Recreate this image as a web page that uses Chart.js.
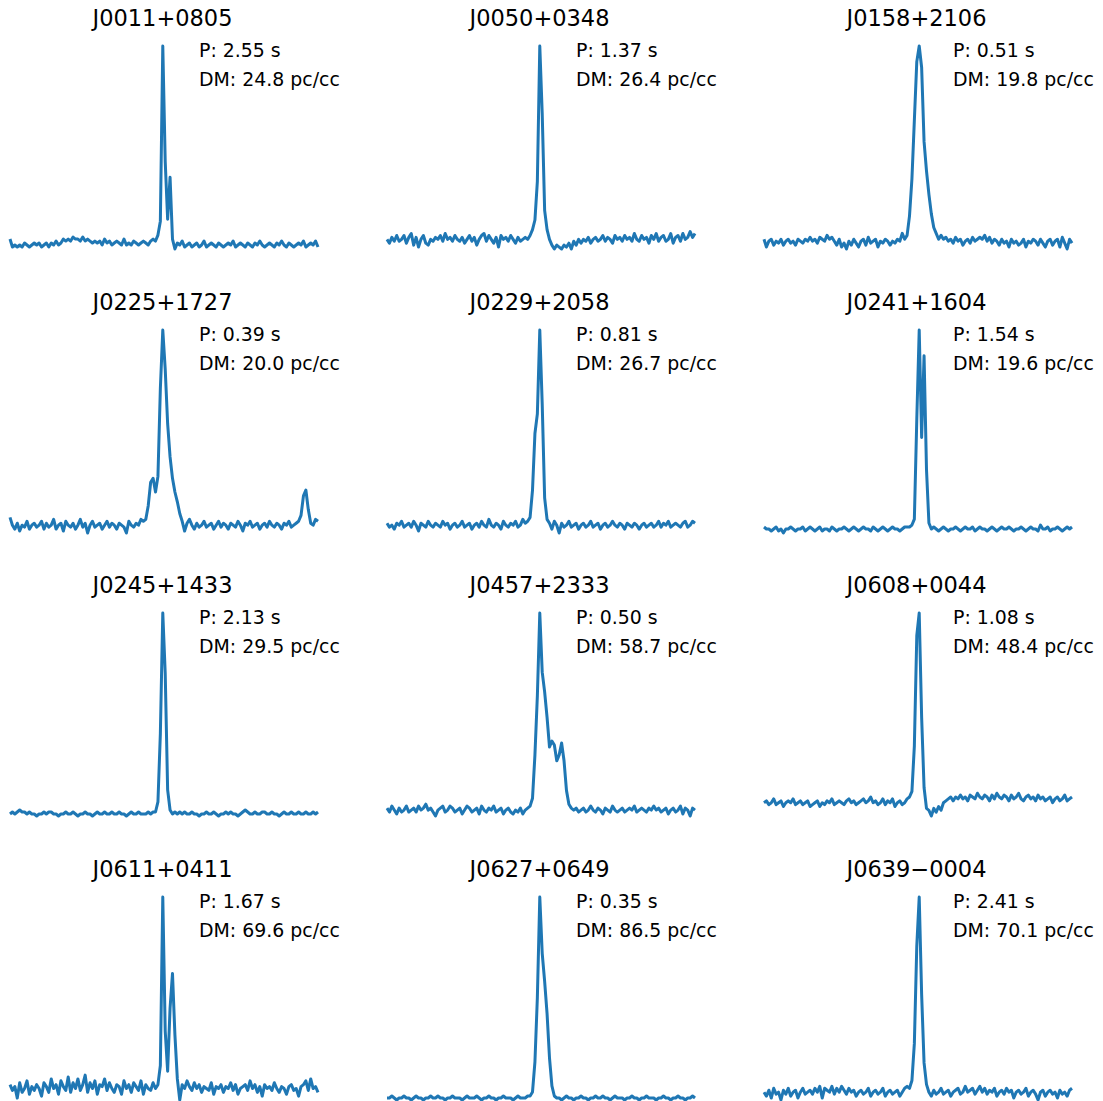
<!DOCTYPE html>
<html>
<head>
<meta charset="utf-8">
<script src="https://cdn.jsdelivr.net/npm/chart.js@4.4.0/dist/chart.umd.min.js"></script>
<style>
  html, body { margin: 0; padding: 0; background: #fff; overflow: hidden; }
  #page { position: relative; width: 1103px; height: 1101px; font-family: "DejaVu Sans", sans-serif; color: #000; }
  .panel { position: absolute; }
  .title { position: absolute; font-size: 22.5px; line-height: 1; white-space: nowrap; transform: translateX(-50%); }
  .note { position: absolute; font-size: 18.9px; line-height: 1; white-space: nowrap; }
</style>
</head>
<body>
<div id="page"></div>
<script>
// pulsar names, periods (s) and DMs (pc/cc)
const names = ['J0011+0805', 'J0050+0348', 'J0158+2106',
               'J0225+1727', 'J0229+2058', 'J0241+1604',
               'J0245+1433', 'J0457+2333', 'J0608+0044',
               'J0611+0411', 'J0627+0649', 'J0639\u22120004'];
const periods = [2.55, 1.37, 0.51, 0.39, 0.81, 1.54, 2.13, 0.50, 1.08, 1.67, 0.35, 2.41];
const dms = [24.8, 26.4, 19.8, 20.0, 26.7, 19.6, 29.5, 58.7, 48.4, 69.6, 86.5, 70.1];

// pulse profiles, 128 phase bins, peak normalised to 100
const profJ0011 = [3, -1, 0, -1, 0, -1, 1, 0, -1, 0,
  1, 0, 1, -1, 0, 1, -1, 1, 0, 2,
  0, 1, 3, 2, 3, 2, 4, 3, 3, 2,
  4, 2, 3, 2, 1, 2, 1, 2, 0, 3,
  1, 2, 0, 1, 2, 1, 0, 3, 0, 1,
  0, 2, 1, 0, 1, 2, 1, 0, 2, 3,
  2, 5, 12, 100, 42, 13, 34, 3, -2, 1,
  0, 2, -1, 0, 1, -1, 0, 1, -1, 0,
  2, -1, 0, 1, 0, -1, 1, 0, -1, 0,
  1, 0, 2, -1, 0, 1, 0, -1, 1, 0,
  -1, 1, 0, 2, 0, -1, 0, 1, 0, -1,
  1, 0, 2, 0, -1, 1, 0, -1, 0, 1,
  0, 2, -1, 0, 1, 0, 2, -1];
const profJ0050 = [0, -2, 1, -1, 2, -1, 0, 2, -2, 1,
  3, -3, 1, -4, 0, 2, -2, -3, 0, -1,
  1, 0, 2, -1, 3, 0, 1, -1, 2, 0,
  -1, 1, -2, 0, 2, -1, 1, -3, 0, 2,
  3, -1, 2, 0, -2, 1, -4, 2, 0, 1,
  -1, 2, 0, -2, 1, -1, 0, 1, 0, 2,
  5, 10, 30, 100, 65, 15, 5, 0, -3, -5,
  -3, -4, -5, -3, -4, -2, -5, -1, -3, 0,
  -2, 0, -1, 1, -2, 0, 1, -1, 0, 2,
  -1, 1, 0, -2, 2, 0, 1, -1, 2, 0,
  1, -1, 3, 0, -1, 2, 0, 1, -2, 2,
  0, 3, -1, 1, 2, -1, 0, 3, -2, 1,
  2, -1, 3, 0, 1, 4, 1, 3];
const profJ0158 = [1, -3, 0, 1, -2, 0, -1, 1, -2, 0,
  1, -1, 0, -2, 1, 0, -1, 1, 0, 2,
  0, 1, -1, 2, 1, 0, 3, 1, 2, 0,
  -2, 1, -3, -1, -4, 0, -2, 1, -1, -3,
  0, 1, -2, 2, -1, 0, 1, -3, 0, -1,
  1, 0, -2, 0, -1, 1, 0, 4, 1, 3,
  13, 32, 62, 92, 100, 89, 51, 36, 24, 14,
  7, 4, 1, 3, 1, 2, 0, 1, -1, 2,
  0, 1, -2, 0, 1, -1, 2, 0, 1, 2,
  1, 3, 0, 2, -1, 1, 0, -2, 1, -1,
  0, -3, 1, -1, 0, -2, -1, 1, -3, 0,
  -1, 1, 0, -2, 1, -1, -3, 0, 1, -2,
  0, 1, -3, 2, -1, -4, 1, -1];
const profJ0225 = [4, 0, -2, 1, -3, 0, -1, 2, -2, 0,
  1, -1, 0, 2, -2, 1, -1, 0, 3, -2,
  0, 1, -3, 2, 0, -1, 1, -2, 0, 3,
  -1, 1, -4, 0, 2, -1, 0, 1, -2, 0,
  2, -1, 1, 0, -2, 1, 0, -1, -4, 2,
  0, -1, 1, 0, 3, 2, 3, 10, 22, 24,
  17, 25, 70, 100, 80, 52, 35, 24, 17, 12,
  6, 2, -3, 1, 3, 0, -2, 1, -1, 0,
  2, -1, 0, 1, -2, 0, 2, -1, 1, 0,
  -2, 1, 0, -1, 2, 0, -3, 1, 0, 2,
  -1, 0, 1, -2, 0, 1, -1, 2, 0, -1,
  1, 0, -2, 1, 0, 2, -1, 0, 1, 2,
  5, 15, 18, 8, 1, 0, 3, 2];
const profJ0229 = [1, -1, 0, -2, 1, 0, 2, -1, 0, 1,
  -1, 2, 0, -3, 1, 0, -1, 2, 0, -1,
  1, 0, -1, 2, 0, 1, -2, 0, 1, -1,
  0, 2, -1, 0, 1, -2, 0, 1, -1, 2,
  0, -1, 3, 0, -1, 1, 0, -2, 2, 0,
  -1, 1, 0, 2, -1, 0, 3, 1, 2, 4,
  18, 47, 57, 100, 62, 14, 3, 1, -2, 2,
  0, -4, 1, -1, 0, 2, -1, 0, 1, -2,
  0, 1, -1, 0, 2, -1, 0, 1, -2, 0,
  1, -1, 0, 2, 0, -1, 1, 0, -2, 1,
  0, -1, 1, 0, -2, 0, 1, -1, 0, 1,
  -1, 0, 2, -1, 1, 0, 2, -1, 0, 1,
  0, -1, 1, 2, -1, 0, 2, 1];
const profJ0241 = [1, 0, 0, -1, 0, 1, -1, 0, -2, 0,
  0, 1, 0, -1, 0, 0, 1, -1, 0, 1,
  0, -1, 0, 1, -1, 0, 0, -1, 1, 0,
  -1, 0, 0, 1, 0, -1, 0, 1, 0, -1,
  0, 1, 0, 0, -1, 1, 0, -1, 0, 1,
  0, -1, 0, 1, 0, 0, -1, 0, 1, 1,
  1, 2, 5, 55, 100, 46, 87, 30, 3, 0,
  1, 0, -1, 0, 1, 0, -1, 0, 0, 1,
  0, -1, 0, 1, 0, 0, 1, -1, 0, 1,
  0, 0, -1, 0, 1, 0, -1, 0, 1, 0,
  0, 1, 0, -1, 0, 0, 1, 0, -1, 0,
  1, 0, 0, -1, 2, 0, 0, 1, -1, 0,
  0, 1, 0, -1, 0, 1, 0, 1];
const profJ0245 = [0, 1, 0, 1, 2, 1, 1, 0, 1, 0,
  0, -1, 0, 0, 1, 0, 1, 1, 0, 0,
  -1, 0, 0, 1, 0, 0, 1, 0, -1, 0,
  0, 1, 0, 0, -1, 0, 1, 0, 0, 1,
  0, 0, 1, 0, 0, 1, 0, 0, -1, 0,
  1, 0, 0, 1, 0, 0, 0, 1, 0, 1,
  1, 6, 40, 100, 70, 12, 2, 0, 1, 0,
  1, 0, 1, 0, 0, 1, 0, 0, -1, 0,
  0, 1, 0, 0, 1, 0, -1, 0, 0, 1,
  0, 1, 0, 0, -1, 0, 1, 2, 1, 0,
  0, 1, 0, 0, 1, 1, 0, 0, 1, 0,
  0, -1, 0, 1, 0, 0, 1, 0, 0, 1,
  0, 0, 1, 0, 0, 1, 0, 1];
const profJ0457 = [1, -1, 2, 0, -2, 1, -1, 0, 2, -1,
  0, 1, -1, 2, 0, 1, 3, 0, 1, -1,
  -3, 0, 1, 2, -1, 0, 2, 1, -1, 0,
  1, -2, 0, 2, 1, -1, 0, 1, -2, 2,
  0, -1, 1, 0, 2, -1, 0, 1, -2, 0,
  1, -1, -2, 0, -1, 1, -2, 0, 1, 2,
  6, 28, 58, 100, 70, 60, 47, 32, 35, 33,
  25, 28, 34, 25, 10, 3, 1, 0, 1, -1,
  0, 1, -1, 0, 2, 0, -1, 1, 0, -2,
  1, 0, -1, 2, 0, -1, 0, 1, -1, 0,
  1, 0, 2, -1, 0, 1, 0, -1, 1, 0,
  2, 0, 1, -1, 0, 1, -2, 0, 1, -1,
  0, 2, -2, 1, 0, -3, 1, 0];
const profJ0608 = [0, 1, -1, 0, 2, -1, 0, 1, -2, 0,
  1, 0, 2, -1, 0, 1, -1, 0, 1, -2,
  -1, 0, 1, -2, 0, -1, 1, 0, 2, -1,
  0, 1, 0, -1, 1, 2, 0, 1, -1, 0,
  1, 2, 0, 1, 3, 0, 1, -1, 0, 2,
  -1, 1, 0, 2, -2, 0, 1, -1, 0, 2,
  3, 6, 30, 88, 100, 45, 8, -3, -4, -7,
  -3, -5, -2, -4, 0, 1, 2, 3, 1, 3,
  2, 4, 2, 3, 1, 4, 3, 2, 5, 3,
  2, 4, 3, 1, 4, 2, 5, 3, 2, 4,
  3, 1, 4, 2, 3, 5, 2, 1, 3, 4,
  2, 3, 1, 4, 2, 3, 1, 2, 3, 0,
  2, 3, 1, 2, 4, 1, 2, 3];
const profJ0611 = [2, -1, 1, -5, 3, -2, 0, 4, -3, 1,
  -1, 2, 0, -4, 3, 1, -2, 5, 0, 2,
  -3, 4, 1, -1, 6, -2, 3, 0, 5, -1,
  2, 7, -2, 3, 0, 4, -3, 2, 1, 5,
  -1, 3, 0, -2, 2, 1, -3, 4, 0, 2,
  -2, 3, 1, -1, 4, -3, 2, 0, -1, 3,
  0, 2, 12, 100, 30, 9, 42, 60, 28, 5,
  -6, 2, 0, 4, 1, -1, 3, 0, 2, -2,
  1, 0, -1, 3, -3, 1, 0, 2, -2, 1,
  0, 3, -1, 2, -3, 0, 1, 2, -1, 4,
  0, 2, -2, 1, -4, 2, 0, 1, -1, 3,
  0, -2, 1, 0, -3, 1, 2, -1, 0, -4,
  1, 2, 4, -1, 5, 0, 1, -2];
const profJ0627 = [0, 0, 1, 0, -1, 0, 0, 1, 0, 0,
  -1, 0, 1, 0, 0, -1, 0, 0, 1, 0,
  0, 1, 0, 0, -1, 0, 0, 1, 0, 0,
  0, -1, 0, 1, 0, 0, 0, 1, 0, -1,
  0, 0, 1, 0, 0, -1, 0, 0, 1, 0,
  0, 0, -1, 0, 1, 0, 0, 0, 1, 1,
  3, 18, 50, 100, 72, 58, 42, 20, 6, 1,
  0, 0, -1, 0, 1, 0, 0, -1, 0, 0,
  1, 0, 0, -1, 0, 0, 1, 0, 0, 1,
  0, 0, -1, 0, 1, 0, 0, 0, -1, 0,
  0, 1, 0, 0, -1, 0, 0, 1, 0, 0,
  0, -1, 0, 0, 1, 0, 0, -1, 0, 0,
  1, 0, 0, -1, 0, 0, 1, 0];
const profJ0639 = [0, -2, 1, -3, 2, -1, 0, -4, 1, -1,
  2, -2, 0, 1, -3, 0, 2, -1, 0, 1,
  -1, 2, 0, 3, -3, 2, 1, 0, 3, -1,
  2, 0, 3, 1, -1, 2, 0, 1, -2, 0,
  1, -1, 0, 2, -2, 0, 1, -1, 0, 2,
  -2, 0, 1, -1, 0, 1, -2, 0, 2, 3,
  2, 6, 25, 75, 100, 50, 15, 4, 0, -2,
  1, -1, 0, 2, -1, 0, 1, -2, 0, 1,
  2, -1, 0, 3, 0, 1, 2, -1, 1, 3,
  0, 2, -1, 1, 0, 2, -2, 0, 1, -1,
  2, 0, 1, -3, 0, 1, -1, 0, 2, -2,
  0, 1, -1, -4, 0, 1, -2, 0, 1, -1,
  0, -3, 1, -1, 0, -2, 1, 2];

const profiles = [profJ0011, profJ0050, profJ0158, profJ0225, profJ0229, profJ0241,
                  profJ0245, profJ0457, profJ0608, profJ0611, profJ0627, profJ0639];

// grid layout (px)
const colLeft = [10, 387, 764];
const rowTop = [46, 330, 613, 897];
const plotW = 308, plotH = 203, PAD = 4;

const page = document.getElementById('page');

profiles.forEach((prof, i) => {
    const r = Math.floor(i / 3), c = i % 3;
    const left = colLeft[c], top = rowTop[r];

    const title = document.createElement('div');
    title.className = 'title';
    title.textContent = names[i];
    title.style.left = (left + plotW / 2 - 1.5) + 'px';
    title.style.top = (top - 39) + 'px';
    page.appendChild(title);

    const p = document.createElement('div');
    p.className = 'note';
    p.textContent = 'P: ' + periods[i].toFixed(2) + ' s';
    p.style.left = (left + 189) + 'px';
    p.style.top = (top - 5.5) + 'px';
    page.appendChild(p);

    const dm = document.createElement('div');
    dm.className = 'note';
    dm.textContent = 'DM: ' + dms[i].toFixed(1) + ' pc/cc';
    dm.style.left = (left + 189) + 'px';
    dm.style.top = (top + 23.5) + 'px';
    page.appendChild(dm);

    const box = document.createElement('div');
    box.className = 'panel';
    box.style.left = (left - PAD) + 'px';
    box.style.top = (top - PAD) + 'px';
    const canvas = document.createElement('canvas');
    canvas.width = plotW + 2 * PAD;
    canvas.height = plotH + 2 * PAD;
    canvas.style.width = canvas.width + 'px';
    canvas.style.height = canvas.height + 'px';
    box.appendChild(canvas);
    page.appendChild(box);

    new Chart(canvas, {
        type: 'line',
        data: {
            labels: prof.map((v, k) => k),
            datasets: [{
                data: prof,
                borderColor: '#1f77b4',
                borderWidth: 3,
                borderJoinStyle: 'round',
                pointRadius: 0,
                tension: 0,
                fill: false,
                clip: false
            }]
        },
        options: {
            responsive: false,
            animation: false,
            devicePixelRatio: 1,
            layout: { padding: PAD },
            plugins: {
                legend: { display: false },
                tooltip: { enabled: false }
            },
            scales: {
                x: { display: false, offset: false },
                y: { display: false, min: Math.min(...prof), max: Math.max(...prof) }
            }
        }
    });
});
</script>
</body>
</html>
